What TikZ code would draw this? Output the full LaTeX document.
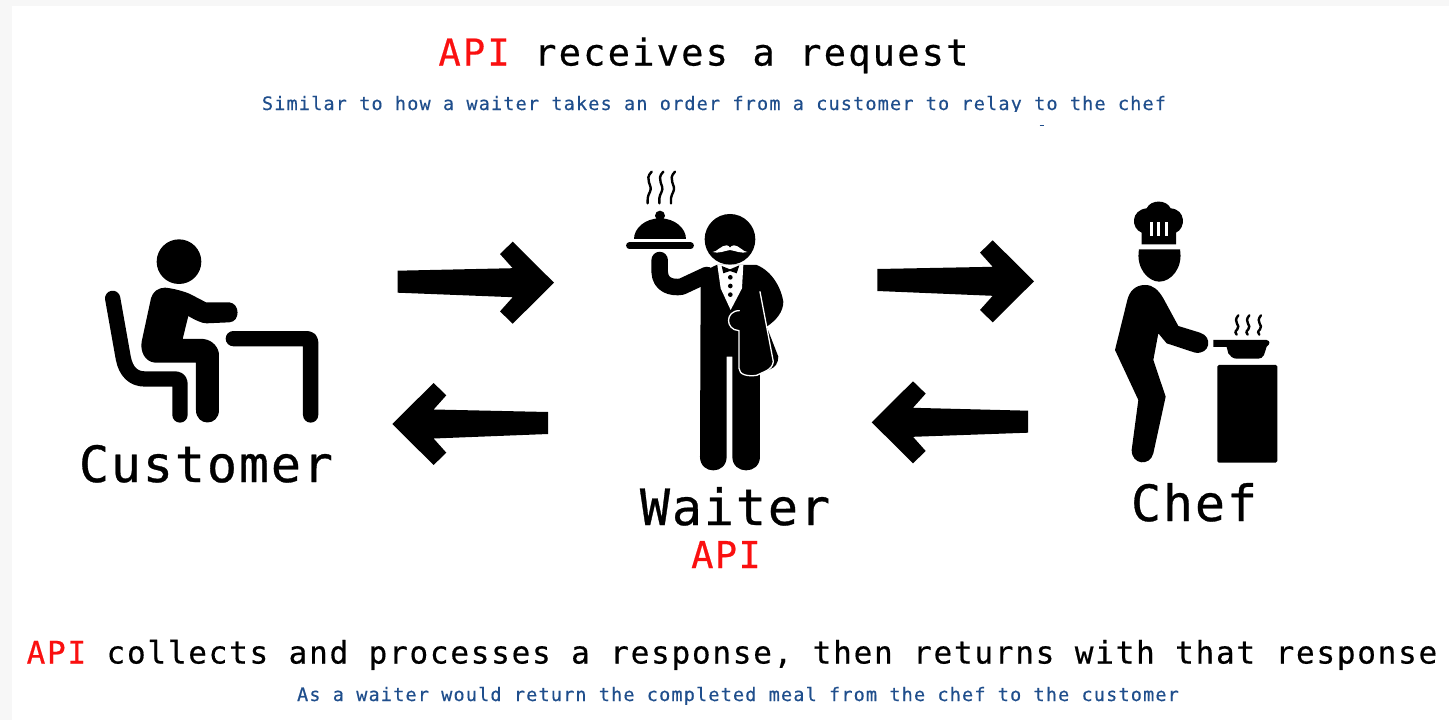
\documentclass[tikz,border=0pt]{standalone}
\usepackage{fontspec}
\newfontfamily\monoHead[LetterSpace=6,FakeBold=0.5]{DejaVu Sans Mono}
\newfontfamily\monoResp[LetterSpace=5.7,FakeBold=0.5]{DejaVu Sans Mono}
\newfontfamily\monoSub[LetterSpace=6.3,FakeBold=0.4]{DejaVu Sans Mono}
\newfontfamily\monoBig[LetterSpace=3.8,FakeBold=0.6]{DejaVu Sans Mono}
\newfontfamily\monoApi[LetterSpace=3.8,FakeBold=0.5]{DejaVu Sans Mono}
\definecolor{apired}{HTML}{FA1010}
\definecolor{subblue}{HTML}{1F4E8C}
\definecolor{pagegrey}{HTML}{F7F7F7}
\tikzset{
  x=1pt,y=-1pt,
  lbl/.style={inner sep=0pt,anchor=base,text=black},
  headtxt/.style={lbl,font=\monoHead\fontsize{37}{44}\selectfont},
  resptxt/.style={lbl,font=\monoResp\fontsize{31}{37}\selectfont},
  subtxt/.style={lbl,text=subblue,font=\monoSub\fontsize{18.5}{22}\selectfont},
  bigtxt/.style={lbl,font=\monoBig\fontsize{50}{60}\selectfont},
  apitxt/.style={lbl,text=apired,font=\monoApi\fontsize{37}{44}\selectfont},
  icon/.style={fill=black,draw=none},
  limb/.style={draw=black,line cap=round,line join=round,line width=#1},
  steam/.style={draw=black,line cap=round,line width=2.4pt,fill=none},
  blockarrow/.style={fill=black,to path={
    ([yshift=11pt]\tikztostart)
    -- ([xshift={#1*(-41.3)},yshift=14.5pt]\tikztotarget)
    -- ([xshift={#1*(-54)},yshift=28.7pt]\tikztotarget)
    -- ([xshift={#1*(-41.3)},yshift=41pt]\tikztotarget)
    -- (\tikztotarget)
    -- ([xshift={#1*(-41.3)},yshift=-41pt]\tikztotarget)
    -- ([xshift={#1*(-54)},yshift=-28.7pt]\tikztotarget)
    -- ([xshift={#1*(-41.3)},yshift=-14.5pt]\tikztotarget)
    -- ([yshift=-11pt]\tikztostart) -- cycle}},
}
\begin{document}
\begin{tikzpicture}
\useasboundingbox (0,0) rectangle (1449,720);
\fill[pagegrey] (0,0) rectangle (1449,720);
\fill[white] (12,6) rectangle (1449,720);

% headings
\node[headtxt] (head1) at (703.5,65.5) {\textcolor{apired}{API} receives a request};
\node[subtxt] (sub1) at (714,110) {Similar to how a waiter takes an order from a customer to relay to the chef};
\fill[white] (950,111.5) rectangle (1180,122);
\draw[subblue,line width=1pt] (1039.5,125.5) -- (1044,125.5);
\node[resptxt] (head2) at (732,663.5) {\textcolor{apired}{API} collects and processes a response, then returns with that response};
\node[subtxt] (sub2) at (738,701) {As a waiter would return the completed meal from the chef to the customer};

% labels
\node[bigtxt] (customer) at (206,482) {Customer};
\node[bigtxt] (waiter) at (735,525) {Waiter};
\node[bigtxt] (chef) at (1194,521) {Chef};
\node[apitxt] (api) at (726,568) {API};

% customer figure
\begin{scope}[shift={(90,220)},x=0.3333pt,y=-0.3333pt]
  \fill[icon] (267,125) circle[radius=67];
  \fill[icon] (225,203) .. controls (250,205) and (285,215) .. (300,222)
    -- (348,247) -- (418,247) .. controls (450,250) and (452,305) .. (418,307)
    -- (350,310) .. controls (335,310) and (315,300) .. (295,288)
    -- (278,357) -- (340,357) .. controls (370,360) and (387,385) .. (387,405)
    -- (387,570) .. controls (387,620) and (318,620) .. (318,570)
    -- (318,428) -- (195,428) .. controls (165,425) and (150,395) .. (155,365)
    -- (183,235) .. controls (188,215) and (205,203) .. (225,203) -- cycle;
  \draw[limb=15.3pt] (68,235) -- (100,415) .. controls (108,455) and (130,477) .. (165,477)
    -- (255,477) .. controls (265,477) and (270,482) .. (270,492) -- (270,585);
  \draw[limb=15.3pt] (430,356) -- (652,356) .. controls (658,356) and (662,360) .. (662,366) -- (662,585);
\end{scope}

% waiter figure
\begin{scope}[shift={(610,160)},x=0.3333pt,y=-0.3333pt]
  \foreach \sx in {0,35,70}{
    \draw[steam,xshift=\sx*0.3333pt] (125,35) .. controls (100,60) and (130,75) .. (120,95)
       .. controls (112,110) and (112,120) .. (113,130);
  }
  \fill[icon] (72,237) .. controls (72,205) and (105,175) .. (150,175)
     .. controls (195,175) and (228,205) .. (228,237) -- cycle;
  \fill[icon] (150,167) circle[radius=15];
  \draw[limb=6.5pt] (58,257) -- (242,257);
  \draw[limb=16.5pt] (149,300) -- (149,335) .. controls (150,375) and (185,385) .. (215,380) -- (290,345);
  \fill[icon] (360,238) circle[radius=76];
  \fill[icon] (272,365) .. controls (272,340) and (295,325) .. (320,315)
     -- (440,315) .. controls (490,335) and (515,390) .. (520,425)
     .. controls (520,455) and (500,480) .. (470,500)
     -- (505,590) .. controls (505,610) and (495,622) .. (480,628)
     -- (450,640) -- (450,890) .. controls (450,945) and (367,945) .. (367,890)
     -- (367,590) -- (350,590) -- (350,890) .. controls (350,945) and (270,945) .. (270,890) -- cycle;
  \fill[white] (308,276) .. controls (320,276) and (335,255) .. (350,256)
     .. controls (355,256) and (358,260) .. (360,263)
     .. controls (362,260) and (365,256) .. (372,256)
     .. controls (385,255) and (400,276) .. (412,276)
     .. controls (395,282) and (375,272) .. (360,270)
     .. controls (345,272) and (325,282) .. (308,276) -- cycle;
  \fill[white] (322,315) -- (400,315) -- (396,385) -- (362,450) -- (332,385) -- cycle;
  \fill[icon] (335,318) -- (360,328) -- (388,316) -- (380,340) -- (360,333) -- (340,340) -- cycle;
  \foreach \by in {352,378,404}{\fill[icon] (361,\by) circle[radius=7];}
  \fill[icon] (387,450) -- (455,440) -- (490,610) .. controls (488,620) and (480,628) .. (470,632)
     -- (440,646) .. controls (415,650) and (387,645) .. (387,625) -- cycle;
  \draw[white,line width=1.3pt,line cap=round,line join=round]
     (450,395) -- (470,500) -- (490,605) .. controls (488,618) and (482,625) .. (470,632)
     -- (440,646) .. controls (415,650) and (387,645) .. (387,625)
     -- (387,512) .. controls (345,510) and (345,452) .. (388,452);
\end{scope}

% chef figure
\begin{scope}[shift={(1100,190)},x=0.3333pt,y=-0.3333pt]
  \fill[icon] (125,163) -- (228,163) -- (228,128) .. controls (258,115) and (258,58) .. (212,55)
     .. controls (200,28) and (152,28) .. (140,55)
     .. controls (92,60) and (92,115) .. (125,128) -- cycle;
  \fill[white] (150,95) rectangle (158,138);
  \fill[white] (171,95) rectangle (180,138);
  \fill[white] (196,95) rectangle (205,138);
  \fill[icon] (117,178) -- (240,178) .. controls (250,235) and (212,275) .. (178,275)
     .. controls (145,275) and (107,235) .. (117,178) -- cycle;
  \fill[icon] (135,285) .. controls (105,285) and (88,305) .. (82,330)
     -- (45,480) -- (115,630) -- (95,780) .. controls (95,825) and (150,830) .. (160,790)
     -- (197,620) -- (160,510) -- (175,430) -- (200,460) -- (285,488)
     .. controls (330,495) and (340,440) .. (300,428)
     -- (235,408) -- (190,325) .. controls (175,300) and (160,285) .. (135,285) -- cycle;
  \fill[icon] (340,450) -- (500,450) .. controls (510,452) and (512,462) .. (500,470)
     -- (492,495) .. controls (488,503) and (482,506) .. (475,506) -- (410,506)
     .. controls (398,506) and (390,498) .. (385,490) -- (380,471) -- (340,471) -- cycle;
  \foreach \sx in {0,33,68}{
    \draw[steam,xshift=\sx*0.3333pt] (415,376) .. controls (396,398) and (424,405) .. (412,418)
       .. controls (404,425) and (406,430) .. (410,434);
  }
  \fill[icon,rounded corners=1.5pt] (352,525) rectangle (532,818);
\end{scope}

% arrows
\coordinate (custOut) at (397.7,281.7);
\coordinate (waitIn) at (554,282.7);
\coordinate (waitBack) at (548,423);
\coordinate (custIn) at (392.3,424);
\coordinate (waitOut) at (877.3,280);
\coordinate (chefIn) at (1034,281.3);
\coordinate (chefBack) at (1028,421.7);
\coordinate (waitRet) at (871.7,422.3);
\path[blockarrow=1] (custOut) to (waitIn);
\path[blockarrow=-1] (waitBack) to (custIn);
\path[blockarrow=1] (waitOut) to (chefIn);
\path[blockarrow=-1] (chefBack) to (waitRet);
\end{tikzpicture}
\end{document}
